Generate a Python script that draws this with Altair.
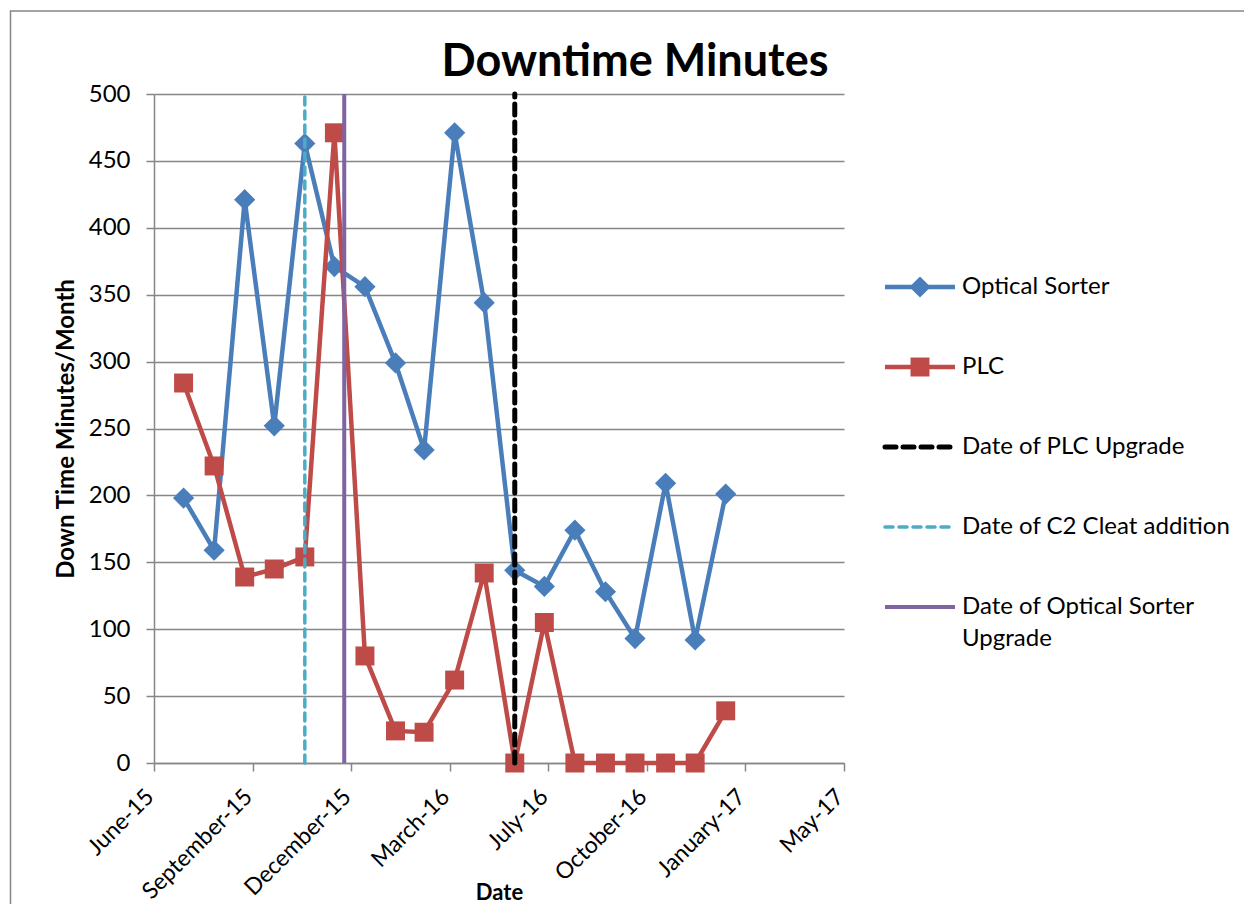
import json
import altair as alt
import pandas as pd

# ---------------- data ----------------
months = [
    "2015-07-01", "2015-08-01", "2015-09-01", "2015-10-01", "2015-11-01",
    "2015-12-01", "2016-01-01", "2016-02-01", "2016-03-01", "2016-04-01",
    "2016-05-01", "2016-06-01", "2016-07-01", "2016-08-01", "2016-09-01",
    "2016-10-01", "2016-11-01", "2016-12-01", "2017-01-01",
]
optical_sorter = [198, 159, 421, 252, 463, 371, 356, 299, 234, 471,
                  344, 144, 132, 174, 128, 93, 209, 92, 201]
plc = [284, 222, 139, 145, 154, 471, 80, 24, 23, 62,
       142, 0, 105, 0, 0, 0, 0, 0, 39]

event_names = ["Date of PLC Upgrade", "Date of C2 Cleat addition",
               "Date of Optical Sorter Upgrade"]
event_dates = ["2016-06-01", "2015-11-01", "2015-12-11"]

axis_origin = "2015-06-01"
tick_days = [0, 100, 200, 300, 400, 500, 600, 700]
tick_labels = ["June-15", "September-15", "December-15", "March-16",
               "July-16", "October-16", "January-17", "May-17"]

series_names = ["Optical Sorter", "PLC"]
colors = {"Optical Sorter": "#4A7EBB", "PLC": "#BE4B48",
          "Date of PLC Upgrade": "#000000",
          "Date of C2 Cleat addition": "#4BACC6",
          "Date of Optical Sorter Upgrade": "#8064A2"}

# ---------------- tables ----------------
origin = pd.Timestamp(axis_origin)
days = [(pd.Timestamp(m) - origin).days for m in months]
df = pd.DataFrame({
    "day": days * 2,
    "value": optical_sorter + plc,
    "series": ["Optical Sorter"] * len(days) + ["PLC"] * len(days),
})
ev = pd.DataFrame({
    "name": event_names,
    "day": [(pd.Timestamp(d) - origin).days for d in event_dates],
    "value": [0, 0, 0],
    "value2": [500, 500, 500],
})

FONT = "Lato"
W, H = 690, 669

xscale = alt.Scale(domain=[0, 700], nice=False, zero=False)
yscale = alt.Scale(domain=[0, 500], nice=False)
label_expr = json.dumps(tick_labels) + "[round(datum.value / 100)]"

xenc = alt.X("day:Q", scale=xscale,
             axis=alt.Axis(values=tick_days, labelExpr=label_expr, labelAngle=-45,
                           labelOverlap=False, labelFlush=False, labelBound=False,
                           labelPadding=14, labelOffset=-12,
                           title="Date", grid=False, tickSize=8,
                           titleY=129, titleBaseline="middle",
                           labelFontSize=23, titleFontSize=22,
                           labelFont=FONT, titleFont=FONT))
yenc = alt.Y("value:Q", scale=yscale,
             axis=alt.Axis(values=list(range(0, 501, 50)), title="Down Time Minutes/Month",
                           grid=True, tickSize=8, labelPadding=16, titlePadding=10,
                           labelOverlap=False, labelFlush=False,
                           labelFontSize=24, titleFontSize=24,
                           labelFont=FONT, titleFont=FONT))

base = alt.Chart(df)

layers = []
marker_shape = {"Optical Sorter": "diamond", "PLC": "square"}
marker_size = {"Optical Sorter": 450, "PLC": 360}
for s in series_names:
    sub = base.transform_filter(alt.datum.series == s)
    layers.append(sub.mark_line(color=colors[s], strokeWidth=4.5).encode(x=xenc, y=yenc))
    layers.append(sub.mark_point(shape=marker_shape[s], filled=True, opacity=1,
                                 color=colors[s], size=marker_size[s]).encode(x=xenc, y=yenc))

dash = {"Date of PLC Upgrade": [11, 7], "Date of C2 Cleat addition": [8, 6],
        "Date of Optical Sorter Upgrade": [1, 0]}
width = {"Date of PLC Upgrade": 5, "Date of C2 Cleat addition": 3.5,
         "Date of Optical Sorter Upgrade": 4}
for n in event_names:
    sub = alt.Chart(ev).transform_filter(alt.datum.name == n)
    layers.append(sub.mark_rule(color=colors[n], strokeWidth=width[n], strokeDash=dash[n],
                                strokeCap="round" if n != "Date of Optical Sorter Upgrade" else "butt")
                  .encode(x=xenc, y=yenc, y2="value2:Q"))

# ---------------- legend (layout rows) ----------------
legend_names = ["Optical Sorter", "PLC", "Date of PLC Upgrade",
                "Date of C2 Cleat addition", "Date of Optical Sorter Upgrade"]
row_y = [193 + 80 * i for i in range(5)]
lg = pd.DataFrame({"name": legend_names, "ly": row_y,
                   "lx0": [731] * 5, "lx1": [801] * 5, "lxm": [766] * 5})
lab = pd.DataFrame({"text": ["Optical Sorter", "PLC", "Date of PLC Upgrade",
                             "Date of C2 Cleat addition", "Date of Optical Sorter", "Upgrade"],
                    "ly": row_y + [row_y[-1] + 32], "lx": [808] * 6})
for n in legend_names:
    sub = alt.Chart(lg).transform_filter(alt.datum.name == n)
    layers.append(sub.mark_rule(color=colors[n], strokeWidth=width.get(n, 4.5),
                                strokeDash=dash.get(n, [1, 0]),
                                strokeCap="round" if n in ("Date of PLC Upgrade", "Date of C2 Cleat addition") else "butt")
                  .encode(x=alt.X("lx0:Q", scale=None), x2="lx1:Q", y=alt.Y("ly:Q", scale=None)))
    if n in marker_shape:
        layers.append(sub.mark_point(shape=marker_shape[n], filled=True, opacity=1,
                                     color=colors[n], size=marker_size[n])
                      .encode(x=alt.X("lxm:Q", scale=None), y=alt.Y("ly:Q", scale=None)))
layers.append(alt.Chart(lab).mark_text(align="left", baseline="middle", font=FONT,
                                       fontSize=24, color="black")
              .encode(x=alt.X("lx:Q", scale=None), y=alt.Y("ly:Q", scale=None), text="text:N"))

# chart title
layers.append(alt.Chart(pd.DataFrame({"t": ["Downtime Minutes"]}))
              .mark_text(align="center", baseline="middle", font=FONT, fontSize=45,
                         fontWeight="bold", color="black")
              .encode(x=alt.value(481), y=alt.value(-32), text="t:N"))

# outer frame
frame = pd.DataFrame({"fx0": [-143.5], "fy0": [-83], "fx1": [3000], "fy1": [3000]})
layers.insert(0, alt.Chart(frame).mark_rect(fillOpacity=0, stroke="#868686", strokeWidth=1.5)
              .encode(x=alt.X("fx0:Q", scale=None), x2="fx1:Q",
                      y=alt.Y("fy0:Q", scale=None), y2="fy1:Q"))

chart = alt.layer(*layers).properties(
    width=W, height=H,
    background="white",
    autosize=alt.AutoSizeParams(type="none"),
    padding={"left": 146, "top": 86, "right": 400, "bottom": 141},
).configure_view(strokeWidth=0, stroke="transparent").configure_axis(
    labelFont=FONT, titleFont=FONT, labelColor="black", titleColor="black",
    titleFontWeight="bold", gridColor="#868686", gridWidth=1.5,
    domainColor="#868686", domainWidth=1.5, tickColor="#868686", tickWidth=1.5,
)

chart.save("out.html", embed_options={"renderer": "svg", "actions": False})
